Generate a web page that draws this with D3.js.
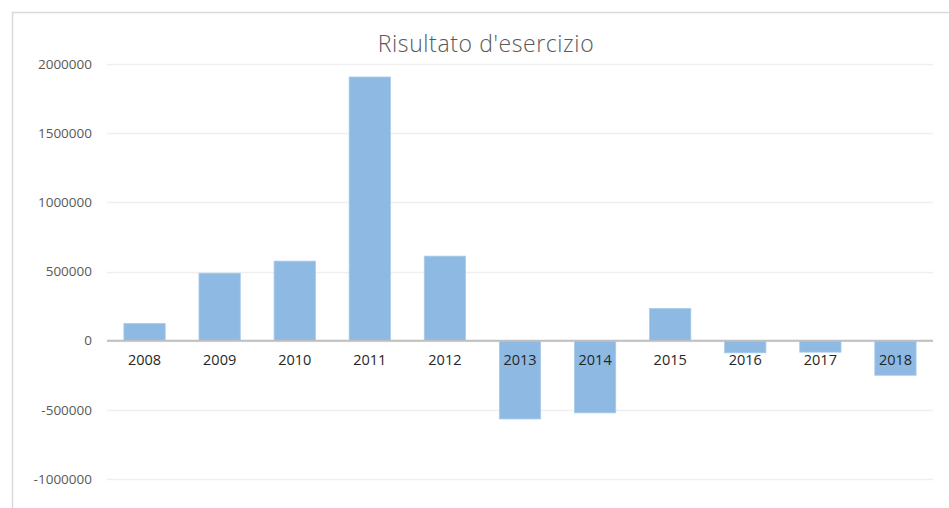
<!DOCTYPE html>
<html>
<head>
  <meta charset="utf-8">
  <script src="https://d3js.org/d3.v7.min.js"></script>
  <style>
    body { margin: 0; background: #fff; }
    text { font-family: "Open Sans", "Liberation Sans", sans-serif; }
  </style>
</head>
<body>
<svg id="chart"></svg>
<script>
  var w = 949, h = 508;
  var years = ["2008", "2009", "2010", "2011", "2012", "2013", "2014", "2015", "2016", "2017", "2018"];
  var risultato = [124000, 488000, 575000, 1906000, 611000, -566000, -522000, 233000, -88000, -83000, -250000];
  var yTicks = [-1000000, -500000, 0, 500000, 1000000, 1500000, 2000000];

  var svg = d3.select("#chart").attr("width", w).attr("height", h);

  // chart frame (only top and left visible in the crop)
  svg.append("path").attr("d", "M12.5,508 V12.5 H949")
    .attr("fill", "none").attr("stroke", "#d9d9d9").attr("stroke-width", 1.5);

  var x = d3.scaleBand().domain(years).range([107, 933]).paddingInner(0.45).paddingOuter(0.225);
  var y = d3.scaleLinear().domain([-1000000, 2000000]).range([479, 64]);

  // gridlines
  svg.append("g").selectAll("line").data(yTicks).enter().append("line")
    .attr("x1", 107).attr("x2", 933)
    .attr("y1", function(d) { return Math.round(y(d)) + 0.5; })
    .attr("y2", function(d) { return Math.round(y(d)) + 0.5; })
    .attr("stroke", "#efefef").attr("stroke-width", 1.5);

  // y labels (plain hyphen for negatives, like the original)
  var yAxis = d3.axisLeft(y).tickValues(yTicks).tickSize(0).tickPadding(15)
    .tickFormat(function(d) { return String(d); });
  var gy = svg.append("g").attr("transform", "translate(107,0)").call(yAxis);
  gy.select(".domain").remove();
  gy.selectAll("text").attr("font-size", "13.5px").attr("fill", "#595959")
    .style("font-family", "'Open Sans', sans-serif");

  // bars
  svg.append("g").selectAll("rect").data(risultato).enter().append("rect")
    .attr("x", function(d, i) { return x(years[i]); })
    .attr("width", x.bandwidth())
    .attr("y", function(d) { return y(Math.max(0, d)); })
    .attr("height", function(d) { return Math.abs(y(d) - y(0)); })
    .attr("fill", "#8db9e2").attr("stroke", "#a9cbeb").attr("stroke-width", 0.8);

  // zero line
  svg.append("line").attr("x1", 107).attr("x2", 933)
    .attr("y1", y(0)).attr("y2", y(0))
    .attr("stroke", "#bfbfbf").attr("stroke-width", 2);

  // category labels
  var xAxis = d3.axisBottom(x).tickSize(0).tickPadding(14);
  var gx = svg.append("g").attr("transform", "translate(0," + y(0) + ")").call(xAxis);
  gx.select(".domain").remove();
  gx.selectAll("text").attr("font-size", "14.5px").attr("fill", "#262626")
    .style("font-family", "'Open Sans', sans-serif");

  // title
  svg.append("text").attr("x", 486).attr("y", 52).attr("text-anchor", "middle")
    .attr("font-size", "23px").attr("font-weight", 300).attr("fill", "#595959")
    .attr("letter-spacing", "0.6px")
    .text("Risultato d'esercizio");
</script>
</body>
</html>
